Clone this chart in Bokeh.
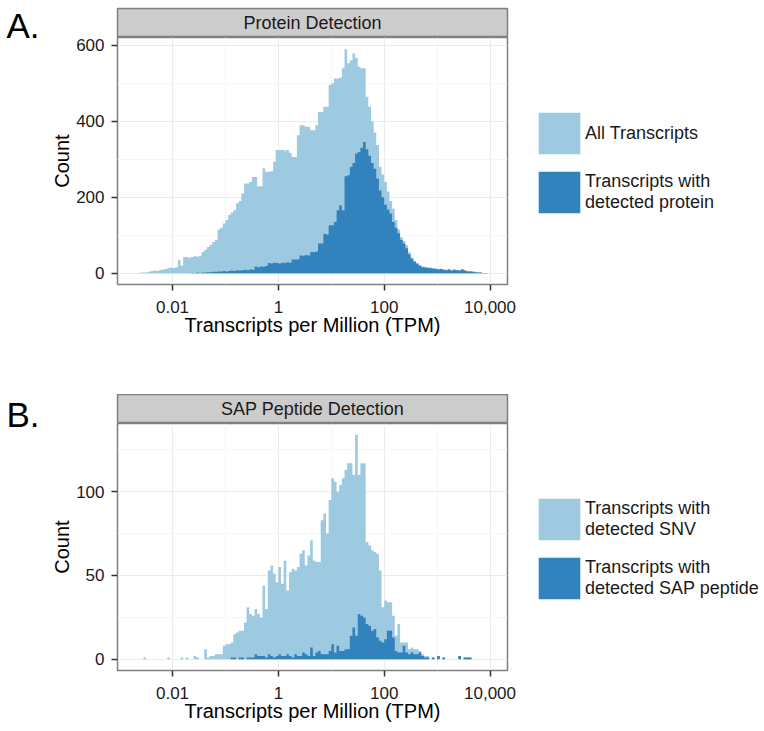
from bokeh.plotting import figure
from bokeh.models import (Range1d, FixedTicker, Legend, LegendItem, Label,
                          CustomJSTickFormatter, ColumnDataSource)
from bokeh.layouts import column, row
from bokeh.embed import file_html
from bokeh.resources import INLINE

# ---------------- data ----------------
# histogram bins on log10(TPM): first bin starts at 10^-2.70, each bin 0.05 decades wide
BIN_START = -2.70
BIN_WIDTH = 0.05

A_ALL = [1, 1, 2, 2, 3, 5, 6, 7, 6, 9,
         10, 11, 14, 15, 14, 16, 35, 20, 43, 42,
         41, 43, 45, 44, 46, 56, 62, 69, 75, 82,
         88, 115, 120, 131, 140, 153, 160, 166, 184, 190,
         210, 236, 236, 240, 253, 253, 229, 229, 276, 267,
         267, 268, 293, 324, 324, 325, 323, 324, 317, 306,
         306, 363, 389, 389, 385, 385, 376, 376, 389, 424,
         424, 438, 438, 495, 500, 512, 512, 515, 539, 589,
         552, 560, 578, 567, 543, 539, 539, 464, 438, 400,
         370, 337, 280, 260, 240, 215, 190, 170, 140, 115,
         95, 85, 74, 55, 42, 33, 28, 22, 18, 17,
         16, 15, 14, 13, 11, 12, 10, 9, 11, 8,
         10, 9, 8, 11, 8, 6, 6, 5, 4, 3,
         2, 1, 1, 0]

A_DET = [0, 0, 0, 0, 0, 0, 0, 0, 0, 0,
         0, 0, 0, 0, 0, 0, 0, 0, 0, 0,
         0, 1, 1, 2, 1, 2, 2, 3, 3, 4,
         4, 5, 5, 6, 5, 6, 7, 6, 8, 7,
         8, 9, 8, 10, 9, 18, 16, 18, 17, 19,
         27, 26, 28, 27, 26, 28, 27, 29, 28, 36,
         36, 37, 47, 46, 48, 47, 56, 55, 57, 78,
         78, 104, 102, 126, 126, 135, 166, 179, 166, 255,
         258, 280, 290, 315, 319, 330, 345, 326, 309, 290,
         275, 249, 218, 200, 180, 168, 157, 135, 120, 105,
         88, 78, 66, 50, 38, 30, 25, 20, 16, 15,
         14, 13, 12, 11, 10, 11, 9, 8, 10, 7,
         9, 8, 7, 10, 7, 5, 5, 4, 3, 2,
         2, 1, 1, 0]

B_SNV = [0, 0, 0, 1, 0, 0, 0, 0, 0, 0,
         0, 0, 1, 0, 0, 0, 0, 1, 0, 1,
         0, 0, 2, 1, 0, 0, 6, 1, 2, 2,
         3, 3, 3, 8, 9, 9, 10, 15, 16, 17,
         17, 22, 31, 27, 26, 30, 27, 25, 44, 30,
         53, 56, 51, 46, 55, 45, 59, 41, 52, 54,
         53, 55, 63, 65, 56, 62, 71, 59, 58, 58,
         83, 87, 75, 95, 108, 106, 100, 104, 108, 113,
         117, 117, 110, 134, 110, 117, 117, 70, 68, 65,
         64, 63, 53, 31, 35, 34, 34, 26, 14, 21,
         10, 10, 10, 6, 7, 6, 6, 5, 3, 2,
         2, 0, 1, 0, 2, 0, 1, 0, 0, 0,
         0, 0, 2, 0, 1, 1, 1, 0, 0, 0,
         0, 0, 0, 0]

B_SAP = [0, 0, 0, 0, 0, 0, 0, 0, 0, 0,
         0, 0, 0, 0, 0, 0, 0, 0, 0, 0,
         0, 0, 0, 0, 0, 0, 0, 0, 0, 0,
         0, 0, 0, 0, 0, 0, 1, 1, 0, 1,
         1, 0, 1, 1, 1, 3, 2, 2, 2, 1,
         3, 2, 1, 2, 3, 2, 2, 3, 2, 1,
         3, 2, 2, 4, 3, 2, 7, 2, 4, 5,
         3, 3, 3, 5, 9, 4, 8, 5, 5, 6,
         6, 14, 19, 14, 27, 26, 25, 21, 20, 17,
         18, 13, 11, 10, 12, 17, 17, 13, 5, 4,
         4, 8, 4, 3, 4, 3, 3, 4, 2, 1,
         1, 0, 1, 0, 2, 0, 1, 0, 0, 0,
         0, 0, 2, 0, 1, 1, 1, 0, 0, 0,
         0, 0, 0, 0]

X_TICKS = [0.01, 1, 100, 10000]
X_MINOR = [0.1, 10, 1000]
A_Y_TICKS = [0, 200, 400, 600]
A_Y_MINOR = [100, 300, 500]
B_Y_TICKS = [0, 50, 100]
B_Y_MINOR = [25, 75, 125]

A_LABELS = ["All Transcripts", "Transcripts with\ndetected protein"]
B_LABELS = ["Transcripts with\ndetected SNV", "Transcripts with\ndetected SAP peptide"]

# ---------------- style ----------------
FONT = "Liberation Sans"
LIGHT = "#9ecae1"
DARK = "#3182bd"
BORDER = "#7f7f7f"
STRIP = "#cccccc"
GRID_MAJOR = "#ebebeb"
GRID_MINOR = "#f6f6f6"
X_LIM = (10 ** -3.04, 10 ** 4.33)

TAG_W = 40          # width of the column that holds the panel letter
TAG_H = 48
FRAME_W = 390
FRAME_H = 247
STRIP_H = 29
LEFT = 117 - TAG_W
RIGHT = 256


def hist_source(counts):
    n = len(counts)
    edges = [10 ** (BIN_START + BIN_WIDTH * i) for i in range(n + 1)]
    return ColumnDataSource(dict(x=edges, y1=[0] * (n + 1), y2=list(counts) + [0]))


def make_tag(letter, top_offset):
    t = figure(frame_width=TAG_W, frame_height=TAG_H,
               x_range=Range1d(0, 1), y_range=Range1d(0, 1),
               toolbar_location=None, output_backend="svg",
               x_axis_location=None, y_axis_location=None,
               min_border_left=0, min_border_right=0, min_border_top=0, min_border_bottom=0,
               outline_line_color=None, background_fill_color="white",
               border_fill_color="white")
    t.grid.visible = False
    t.add_layout(Label(x=6, y=TAG_H - top_offset, x_units="screen", y_units="screen",
                       text=letter, text_align="left", text_baseline="top",
                       text_font=FONT, text_font_size="35px", text_color="black"))
    return t


def make_strip(title, top_border):
    s = figure(frame_width=FRAME_W, frame_height=STRIP_H,
               x_range=Range1d(0, 1), y_range=Range1d(0, 1),
               toolbar_location=None, output_backend="svg",
               x_axis_location=None, y_axis_location=None,
               min_border_left=LEFT, min_border_right=RIGHT,
               min_border_top=top_border, min_border_bottom=0,
               background_fill_color=STRIP, border_fill_color="white",
               outline_line_color=BORDER, outline_line_width=1.5)
    s.grid.visible = False
    s.add_layout(Label(x=0.5, y=0.5, text=title, text_align="center", text_baseline="middle",
                       text_font=FONT, text_font_size="18px", text_color="#1a1a1a"))
    return s


def make_main(all_counts, det_counts, labels, y_lim, y_ticks, y_minor, bottom_border):
    p = figure(frame_width=FRAME_W, frame_height=FRAME_H, x_axis_type="log",
               x_range=Range1d(*X_LIM), y_range=Range1d(*y_lim),
               toolbar_location=None, output_backend="svg",
               min_border_left=LEFT, min_border_right=RIGHT, min_border_top=0,
               min_border_bottom=bottom_border,
               outline_line_color=BORDER, outline_line_width=1.5,
               background_fill_color="white", border_fill_color="white")
    r1 = p.varea_step(x="x", y1="y1", y2="y2", step_mode="after",
                      source=hist_source(all_counts), fill_color=LIGHT)
    r2 = p.varea_step(x="x", y1="y1", y2="y2", step_mode="after",
                      source=hist_source(det_counts), fill_color=DARK)

    p.xaxis.ticker = FixedTicker(ticks=X_TICKS, minor_ticks=X_MINOR)
    p.xaxis.formatter = CustomJSTickFormatter(
        code="return tick >= 1000 ? tick.toLocaleString('en-US') : String(tick);")
    p.yaxis.ticker = FixedTicker(ticks=y_ticks, minor_ticks=y_minor)
    p.xaxis.axis_label = "Transcripts per Million (TPM)"
    p.yaxis.axis_label = "Count"
    for ax in (p.xaxis, p.yaxis):
        ax.axis_line_color = None
        ax.major_tick_line_color = "#333333"
        ax.major_tick_line_width = 1.5
        ax.major_tick_out = 6
        ax.major_tick_in = 0
        ax.minor_tick_line_color = None
        ax.major_label_text_font = FONT
        ax.major_label_text_font_size = "17px"
        ax.major_label_text_color = "#1a1a1a"
        ax.axis_label_text_font = FONT
        ax.axis_label_text_font_size = "20px"
        ax.axis_label_text_font_style = "normal"
        ax.axis_label_text_color = "black"
    p.yaxis.major_label_standoff = 7
    p.yaxis.axis_label_standoff = 0
    p.xaxis.major_label_standoff = 10
    p.xaxis.axis_label_standoff = -2

    for g in (p.xgrid, p.ygrid):
        g.grid_line_color = GRID_MAJOR
        g.minor_grid_line_color = GRID_MINOR
        g.grid_line_width = 1
        g.minor_grid_line_width = 1

    legend = Legend(items=[LegendItem(label=labels[0], renderers=[r1]),
                           LegendItem(label=labels[1], renderers=[r2])],
                    location=(26, 66), orientation="vertical",
                    glyph_width=52, glyph_height=52, spacing=7, label_standoff=0,
                    padding=0, margin=0, border_line_color=None, background_fill_alpha=0,
                    label_text_font=FONT, label_text_font_size="18px",
                    label_text_color="#1a1a1a", label_text_line_height=1.15)
    p.add_layout(legend, "right")
    return p


tagA = make_tag("A.", 5)
stripA = make_strip("Protein Detection", 8)
mainA = make_main(A_ALL, A_DET, A_LABELS, (-29.5, 620), A_Y_TICKS, A_Y_MINOR, 110)

tagB = make_tag("B.", 0)
stripB = make_strip("SAP Peptide Detection", 0)
mainB = make_main(B_SNV, B_SAP, B_LABELS, (-6.7, 140.7), B_Y_TICKS, B_Y_MINOR, 45)

layout = column(row(tagA, column(stripA, mainA, spacing=0), spacing=0),
                row(tagB, column(stripB, mainB, spacing=0), spacing=0),
                spacing=0)

open("out.html", "w").write(file_html(layout, INLINE))
